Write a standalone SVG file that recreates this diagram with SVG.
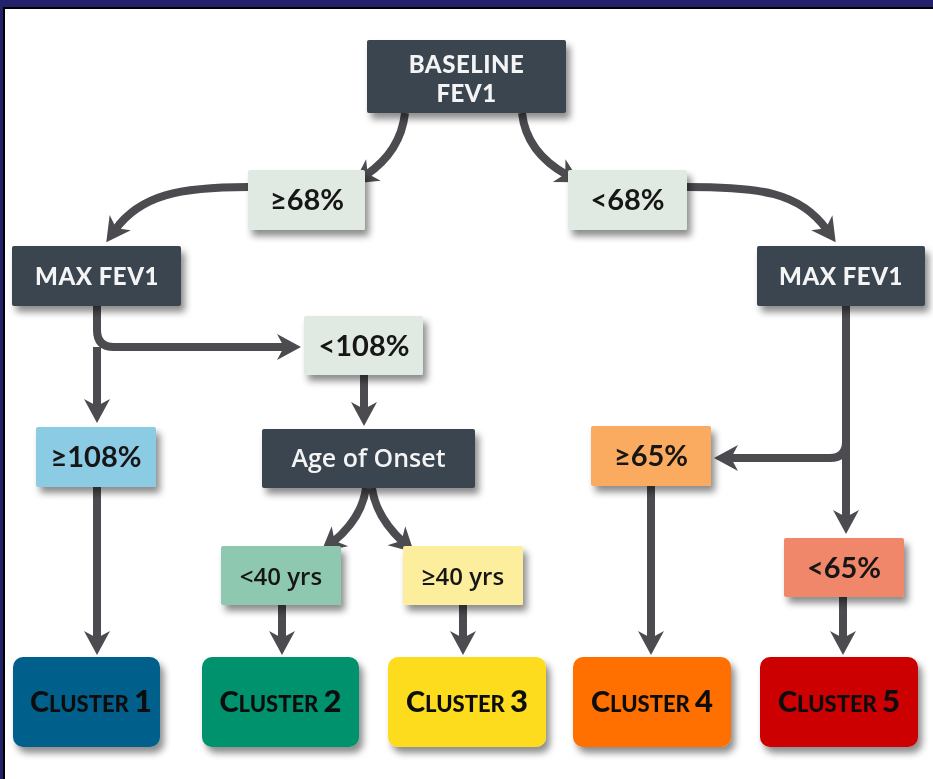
<svg xmlns="http://www.w3.org/2000/svg" width="933" height="779" viewBox="0 0 933 779">
<defs>
<filter id="sh" x="-20%" y="-20%" width="150%" height="160%">
<feDropShadow dx="4" dy="6" stdDeviation="3.5" flood-color="#000" flood-opacity="0.45"/>
</filter>
<marker id="ah" markerUnits="userSpaceOnUse" viewBox="-10 -14 26 28" markerWidth="26" markerHeight="28" refX="0" refY="0" orient="auto">
<path d="M15,0 L-9,-13 L-2,0 L-9,13 Z" fill="#4b4b50"/>
</marker>
<style>
.dark{fill:#3a4450}
.lbl{font-family:Lato,"Open Sans",sans-serif;font-weight:700;font-size:29px;fill:#161616;text-anchor:middle}
.yr{font-family:"Open Sans",Lato,sans-serif;font-weight:600;font-size:24px;fill:#161616;text-anchor:middle}
.wt{font-family:Lato,"Open Sans",sans-serif;font-weight:900;font-size:24px;fill:#f4f4f4;text-anchor:middle;letter-spacing:0.5px}
.ag{font-family:"Open Sans",Lato,sans-serif;font-weight:600;font-size:25px;fill:#f4f4f4;text-anchor:middle}
.cl{font-family:Lato,"Open Sans",sans-serif;font-weight:900;fill:#111;text-anchor:middle}
.c{fill:none;stroke:#4b4b50;stroke-width:8;marker-end:url(#ah)}
</style>
</defs>
<rect x="0" y="0" width="933" height="779" fill="#ffffff"/>
<rect x="0" y="0" width="933" height="7" fill="#23216a"/>
<rect x="0" y="7" width="933" height="2" fill="#000"/>
<rect x="0" y="0" width="3" height="779" fill="#23216a"/>
<rect x="3" y="9" width="2" height="770" fill="#000"/>

<g id="connectors">
<path class="c" d="M405,113 C402,140 388,160 366,175"/>
<path class="c" d="M522,113 C525,140 540,160 567,175"/>
<path class="c" d="M248,187 C180,187 140,195 115,230"/>
<path class="c" d="M687,187 C760,187 800,192 827,230"/>
<path class="c" d="M97,306 V330 Q97,347 114,347 H286"/>
<path class="c" d="M97,347 V408"/>
<path class="c" d="M364,375 V411"/>
<path class="c" d="M97,487 V640"/>
<path class="c" d="M366,488 C363,510 350,528 333,542"/>
<path class="c" d="M372,488 C375,510 388,528 403,542"/>
<path class="c" d="M282,605 V640"/>
<path class="c" d="M463,605 V640"/>
<path class="c" d="M846,306 V442 Q846,458 830,458 H729"/>
<path class="c" d="M846,442 V519"/>
<path class="c" d="M651,486 V640"/>
<path class="c" d="M843,597 V640"/>
</g>

<g id="baseline" filter="url(#sh)">
<rect x="367" y="40" width="199" height="73" rx="2" class="dark"/>
<text class="wt" x="466.5" y="73">BASELINE</text>
<text class="wt" x="466.5" y="102">FEV1</text>
</g>
<g id="ge68" filter="url(#sh)">
<rect x="248" y="170" width="117" height="60" rx="2" fill="#e1eae2"/>
<text class="lbl" x="307" y="210">≥68%</text>
</g>
<g id="lt68" filter="url(#sh)">
<rect x="568" y="170" width="119" height="60" rx="2" fill="#e1eae2"/>
<text class="lbl" x="627.5" y="210">&lt;68%</text>
</g>
<g id="maxL" filter="url(#sh)">
<rect x="12" y="246" width="169" height="60" rx="2" class="dark"/>
<text class="wt" x="97" y="285">MAX FEV1</text>
</g>
<g id="maxR" filter="url(#sh)">
<rect x="757" y="246" width="168" height="60" rx="2" class="dark"/>
<text class="wt" x="841" y="285">MAX FEV1</text>
</g>
<g id="lt108" filter="url(#sh)">
<rect x="304" y="316" width="119" height="59" rx="2" fill="#e1eae2"/>
<text class="lbl" x="364" y="356">&lt;108%</text>
</g>
<g id="ge108" filter="url(#sh)">
<rect x="36" y="427" width="120" height="60" rx="2" fill="#8ccbe4"/>
<text class="lbl" x="96" y="467">≥108%</text>
</g>
<g id="age" filter="url(#sh)">
<rect x="262" y="429" width="213" height="59" rx="2" class="dark"/>
<text class="ag" x="368.5" y="467">Age of Onset</text>
</g>
<g id="ge65" filter="url(#sh)">
<rect x="591" y="426" width="120" height="60" rx="2" fill="#fbab5e"/>
<text class="lbl" x="651" y="466">≥65%</text>
</g>
<g id="lt65" filter="url(#sh)">
<rect x="784" y="538" width="120" height="59" rx="2" fill="#f0866b"/>
<text class="lbl" x="844" y="578">&lt;65%</text>
</g>
<g id="lt40" filter="url(#sh)">
<rect x="221" y="546" width="120" height="59" rx="2" fill="#8fc8b1"/>
<text class="yr" x="281" y="585">&lt;40 yrs</text>
</g>
<g id="ge40" filter="url(#sh)">
<rect x="403" y="546" width="120" height="59" rx="2" fill="#fcee9d"/>
<text class="yr" x="463" y="585">≥40 yrs</text>
</g>

<g id="cluster1" filter="url(#sh)">
<rect x="13" y="657" width="147" height="90" rx="10" fill="#00618b"/>
<text class="cl" x="91" y="712"><tspan font-size="29">C</tspan><tspan font-size="22">LUSTER </tspan><tspan font-size="31">1</tspan></text>
</g>
<g id="cluster2" filter="url(#sh)">
<rect x="202" y="657" width="157" height="90" rx="10" fill="#00916d"/>
<text class="cl" x="280.5" y="712"><tspan font-size="29">C</tspan><tspan font-size="22">LUSTER </tspan><tspan font-size="31">2</tspan></text>
</g>
<g id="cluster3" filter="url(#sh)">
<rect x="388" y="657" width="158" height="90" rx="10" fill="#fcdc1f"/>
<text class="cl" x="467" y="712"><tspan font-size="29">C</tspan><tspan font-size="22">LUSTER </tspan><tspan font-size="31">3</tspan></text>
</g>
<g id="cluster4" filter="url(#sh)">
<rect x="573" y="657" width="158" height="90" rx="10" fill="#ff6f00"/>
<text class="cl" x="652" y="712"><tspan font-size="29">C</tspan><tspan font-size="22">LUSTER </tspan><tspan font-size="31">4</tspan></text>
</g>
<g id="cluster5" filter="url(#sh)">
<rect x="760" y="657" width="158" height="90" rx="10" fill="#cc0000"/>
<text class="cl" x="839" y="712"><tspan font-size="29">C</tspan><tspan font-size="22">LUSTER </tspan><tspan font-size="31">5</tspan></text>
</g>
</svg>
